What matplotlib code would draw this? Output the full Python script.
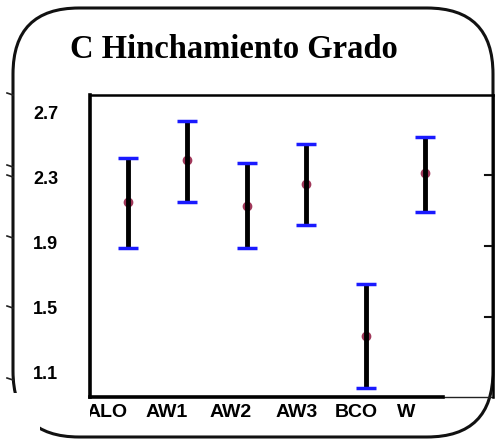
import matplotlib.pyplot as plt
import matplotlib.transforms as mtransforms
from matplotlib.patches import FancyBboxPatch, Rectangle
import numpy as np

# Swelling degree per treatment: mean with lower / upper limits
groups = ["ALO", "AW1", "AW2", "AW3", "BCO", "W"]
mean = [2.15, 2.41, 2.13, 2.26, 1.33, 2.33]
low = [1.87, 2.15, 1.87, 2.01, 1.01, 2.09]
high = [2.42, 2.65, 2.39, 2.51, 1.65, 2.55]
yticks = [1.1, 1.5, 1.9, 2.3, 2.7]
# per-label horizontal nudges (px)
label_shift = [-21, -21, -16, -10, -9, -19]

W, H = 495, 440
fig = plt.figure(figsize=(W / 100, H / 100), dpi=100)

# pixel-space overlay for the rounded frame
bg = fig.add_axes([0, 0, 1, 1])
bg.set_xlim(0, W)
bg.set_ylim(H, 0)
bg.axis("off")
frame = FancyBboxPatch((13, 8), 480, 429, boxstyle="round,pad=0,rounding_size=66",
                       fill=False, ec="#111111", lw=2.2)
bg.add_patch(frame)
bg.add_patch(Rectangle((0, 393), 40, 47, fc="white", ec="none"))
for yy in [95, 167, 177, 238, 308, 380]:
    bg.plot([7, 13], [yy - 2, yy], color="#222222", lw=1.2)
for yy in [175, 246, 317]:
    bg.plot([485, 493], [yy, yy], color="#111111", lw=1.5)
bg.plot([443, 493], [397, 397], color="#222222", lw=1.0)

ax = fig.add_axes([90 / W, 1 - 397 / H, 403 / W, 302 / H])
x = np.arange(len(groups))
m = np.array(mean)
err = [m - np.array(low), np.array(high) - m]

ax.plot(x, mean, "o", ms=6, color="#a0385a", mec="#a0385a", zorder=2)
eb = ax.errorbar(x, mean, yerr=err, fmt="none", ecolor="black", elinewidth=3.5,
                 capsize=7, capthick=2.5, zorder=3)
for c in eb.lines[1]:
    c.set_markeredgecolor("#1a1aff")
    c.set_zorder(4)

ax.set_xlim(-0.64, 6.145)
ax.set_ylim(0.952, 2.81)
ax.set_yticks(yticks)
ax.set_yticklabels([f"{v:.1f}" for v in yticks], fontsize=13, fontweight="bold",
                   family="Liberation Sans")
ax.tick_params(axis="y", length=0, pad=23)
ax.set_xticks(x)
ax.set_xticklabels(groups, fontsize=14, fontweight="bold", family="Liberation Sans")
ax.tick_params(axis="x", length=0, pad=5)
clip = Rectangle((90, 0), W, H, transform=None)
for lab, dx in zip(ax.get_xticklabels(), label_shift):
    shift = mtransforms.ScaledTranslation(dx / 100, 0, fig.dpi_scale_trans)
    lab.set_transform(lab.get_transform() + shift)
    lab.set_clip_path(clip)

# thick bottom rule stops short of the right edge
x0, x1 = ax.get_xlim()
ax.spines["bottom"].set_bounds(x0, x0 + (443 - 90) / 403 * (x1 - x0))
for s in ["left", "bottom"]:
    ax.spines[s].set_linewidth(2.6)
for s in ["top", "right"]:
    ax.spines[s].set_linewidth(1.8)
ax.patch.set_alpha(0)

fig.text(234 / W, 1 - 50 / H, "C Hinchamiento Grado", ha="center", va="center",
         fontsize=23.5, fontweight="bold", family="Liberation Serif")

fig.savefig("out.png", dpi=100)
